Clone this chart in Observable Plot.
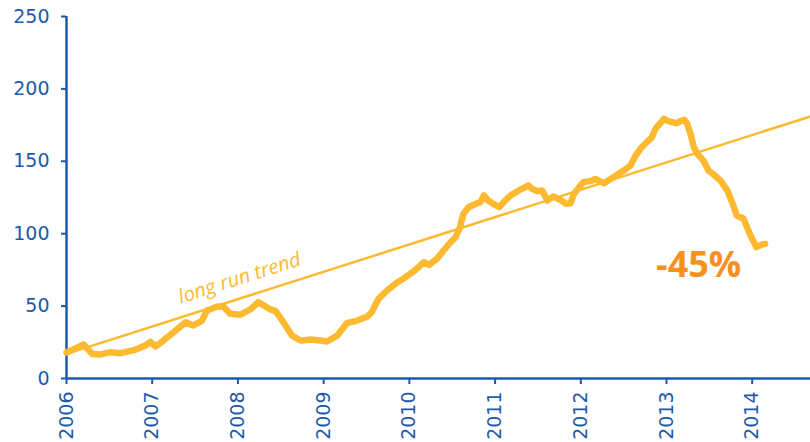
<!DOCTYPE html>
<html>
<head>
<meta charset="utf-8">
<script src="https://cdn.jsdelivr.net/npm/d3@7"></script>
<script src="https://cdn.jsdelivr.net/npm/@observablehq/plot@0.6"></script>
<style>
  html, body { margin: 0; padding: 0; background: #ffffff; }
  #chart svg { display: block; }
</style>
</head>
<body>
<div id="chart"></div>
<script>
const years = [
  2006.00, 2006.105, 2006.20, 2006.30, 2006.40, 2006.51, 2006.63, 2006.80, 2006.92, 2006.98,
  2007.04, 2007.13, 2007.25, 2007.39, 2007.48, 2007.58, 2007.64, 2007.76, 2007.83, 2007.91,
  2008.03, 2008.15, 2008.24, 2008.38, 2008.44, 2008.53, 2008.63, 2008.73, 2008.85, 2008.96,
  2009.04, 2009.16, 2009.27, 2009.37, 2009.51, 2009.56, 2009.64, 2009.74, 2009.86, 2009.93,
  2010.05, 2010.17, 2010.23, 2010.32, 2010.40, 2010.48, 2010.54, 2010.59, 2010.63, 2010.69,
  2010.79, 2010.83, 2010.87, 2010.92, 2010.98, 2011.05, 2011.10, 2011.18, 2011.29, 2011.39,
  2011.43, 2011.49, 2011.55, 2011.61, 2011.68, 2011.76, 2011.83, 2011.88, 2011.92, 2012.03,
  2012.11, 2012.17, 2012.27, 2012.38, 2012.50, 2012.58, 2012.64, 2012.71, 2012.79, 2012.83,
  2012.87, 2012.97, 2013.02, 2013.12, 2013.16, 2013.21, 2013.24, 2013.28, 2013.32, 2013.36,
  2013.43, 2013.49, 2013.55, 2013.63, 2013.71, 2013.78, 2013.82, 2013.90, 2013.94, 2013.98,
  2014.05, 2014.11, 2014.15
];
const values = [
  18, 20.7, 23.5, 17, 16.6, 18.2, 17.5, 19.8, 22.8, 25.3,
  22.1, 26.2, 32, 38.9, 36.6, 40, 47, 49.7, 49.7, 44.7,
  44, 48, 52.7, 47.7, 46.5, 38.9, 29.7, 26.2, 26.9, 26.2,
  25.5, 29.7, 38.2, 39.6, 42.8, 45.8, 55, 60.8, 66.5, 68.9,
  74, 80.3, 78.5, 82.6, 88.4, 94.1, 97.6, 104.5, 113.7, 118.3,
  121, 121.8, 126.4, 122.9, 120.6, 118.3, 121.8, 126.4, 130.3, 133.3,
  131, 129.4, 129.8, 122.9, 125.7, 123.4, 120.6, 121, 127.5, 135.6,
  136.3, 137.8, 134.9, 139, 143.6, 147.1, 154, 159.7, 164.4, 166.6,
  172.4, 179.3, 177.7, 176.3, 177.7, 178.6, 175.9, 169, 159.7, 155.1,
  150.6, 143.6, 140.9, 136.7, 129.8, 119.5, 112.6, 110.3, 104.5, 98.8,
  90.7, 92.5, 93
];
const trendYears = [2006, 2014.68];
const trendValues = [17, 181];
const xTicks = [2006, 2007, 2008, 2009, 2010, 2011, 2012, 2013, 2014];
const yTicks = [0, 50, 100, 150, 200, 250];
const trendLabel = "long run trend";
const changeLabel = "-45%";

const series = years.map((x, i) => ({x, y: values[i]}));
const trend = trendYears.map((x, i) => ({x, y: trendValues[i]}));

const axisColor = "#1E5AA8";
const lineColor = "#FDBA30";
const orange = "#F7901E";

const chart = Plot.plot({
  width: 810,
  height: 442,
  marginLeft: 66,
  marginRight: 0,
  marginTop: 16,
  marginBottom: 64,
  style: {fontFamily: "DejaVu Sans", fontSize: "19px", color: axisColor, background: "#ffffff", overflow: "visible"},
  x: {domain: [2006, 2014.68], label: null, axis: null},
  y: {domain: [0, 250], label: null, axis: null},
  marks: [
    Plot.ruleX(xTicks, {x: d => d, y1: 0, y2: 0, insetBottom: -6, stroke: axisColor, strokeWidth: 2}),
    Plot.text(xTicks, {x: d => d, frameAnchor: "bottom", dy: 13, rotate: -90, text: d => String(d), textAnchor: "end", lineAnchor: "middle", fill: axisColor, fontSize: 19}),
    Plot.axisY({ticks: yTicks, tickSize: 5, tickPadding: 12, strokeWidth: 2, label: null, fontSize: 19}),
    Plot.ruleY([0], {stroke: axisColor, strokeWidth: 2.5}),
    Plot.ruleX([2006], {stroke: axisColor, strokeWidth: 2.5}),
    Plot.line(trend, {x: "x", y: "y", stroke: lineColor, strokeWidth: 2.5}),
    Plot.line(series, {x: "x", y: "y", stroke: lineColor, strokeWidth: 6.5, strokeLinejoin: "round", strokeLinecap: "round"}),
    Plot.text([trendLabel], {x: 2008.04, y: 65, text: d => d, rotate: -17.7, fill: lineColor, fontSize: 20, fontStyle: "italic", fontFamily: "Open Sans", textAnchor: "middle", lineAnchor: "bottom"}),
    Plot.text([changeLabel], {x: 2013.375, y: 70.4, text: d => d, fill: orange, fontSize: 36, fontWeight: "bold", fontFamily: "Open Sans", textAnchor: "middle", lineAnchor: "bottom"})
  ]
});
document.getElementById("chart").appendChild(chart);
</script>
</body>
</html>
